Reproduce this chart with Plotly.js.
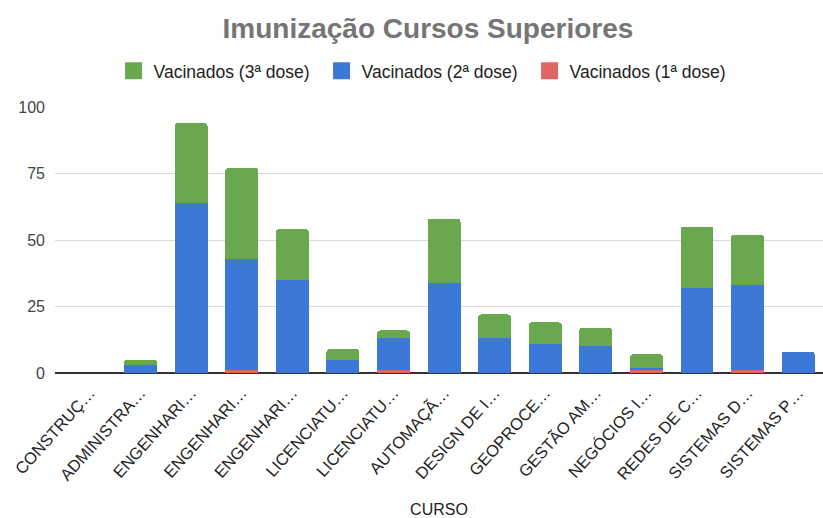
<!DOCTYPE html>
<html>
<head>
<meta charset="utf-8">
<script src="https://cdn.plot.ly/plotly-3.0.1.min.js"></script>
<style>html,body{margin:0;padding:0;background:#fff;}#chart{width:823px;height:518px;}</style>
</head>
<body>
<div id="chart"></div>
<script>
const categories = ["CONSTRUÇ…", "ADMINISTRA…", "ENGENHARI…", "ENGENHARI…", "ENGENHARI…", "LICENCIATU…", "LICENCIATU…", "AUTOMAÇÃ…", "DESIGN DE I…", "GEOPROCE…", "GESTÃO AM…", "NEGÓCIOS I…", "REDES DE C…", "SISTEMAS D…", "SISTEMAS P…"];
const dose1 = [0, 0, 0, 1, 0, 0, 1, 0, 0, 0, 0, 1, 0, 1, 0];
const dose2 = [0, 3, 64, 42, 35, 5, 12, 34, 13, 11, 10, 1, 32, 32, 8];
const dose3 = [0, 2, 30, 34, 19, 4, 3, 24, 9, 8, 7, 5, 23, 19, 0];
const seriesNames = ["Vacinados (1ª dose)", "Vacinados (2ª dose)", "Vacinados (3ª dose)"];
const yTicks = [0, 25, 50, 75, 100];

const xs = categories.map((_, i) => i);
const colors = ["#e06666", "#3c78d8", "#6aa84f"];
const traces = [dose1, dose2, dose3].map((vals, k) => ({
  type: "bar",
  x: xs,
  y: vals,
  name: seriesNames[k],
  legendgroup: "g" + k,
  showlegend: false,
  width: 0.65,
  marker: {color: colors[k], line: {width: 0}},
  hoverinfo: "skip"
}));
// legend-only entries (larger swatches); their single bar sits outside the visible x range
const legendTraces = seriesNames.map((nm, k) => ({
  type: "bar",
  x: [-10], y: [1],
  width: 0.5,
  name: nm,
  legendgroup: "g" + k,
  showlegend: true,
  marker: {color: colors[k], cornerradius: 0, line: {color: colors[k], width: 5}},
  hoverinfo: "skip"
}));

const font = "Liberation Sans, Arial, sans-serif";
const layout = {
  width: 823, height: 518, autosize: false,
  barmode: "stack",
  barcornerradius: 3,
  paper_bgcolor: "#fff", plot_bgcolor: "#fff",
  margin: {l: 55, r: 0, t: 107, b: 145, pad: 0},
  font: {family: font, size: 16, color: "#222"},
  title: {
    text: "<b>Imunização Cursos Superiores</b>",
    font: {family: font, size: 28, color: "#757575"},
    x: 0.52, xref: "container", xanchor: "center",
    y: 0.945, yref: "container", yanchor: "middle"
  },
  showlegend: true,
  legend: {
    orientation: "h", traceorder: "reversed",
    x: 0.138, xref: "container", xanchor: "left",
    y: 0.863, yref: "container", yanchor: "middle",
    font: {family: font, size: 17.5, color: "#222"},
    itemwidth: 30,
    entrywidth: 163, entrywidthmode: "pixels"
  },
  xaxis: {
    range: [-0.69, 14.49],
    tickvals: xs, ticktext: categories,
    tickangle: -48,
    tickfont: {family: font, size: 16.5, color: "#222"},
    ticklabelshift: 0,
    ticklabelstandoff: 6,
    showgrid: false, zeroline: false, showline: false, ticks: "",
    fixedrange: true,
    title: {text: "CURSO", font: {family: font, size: 16, color: "#222"}, standoff: 26}
  },
  yaxis: {
    range: [0, 100],
    tickvals: yTicks,
    tickfont: {family: font, size: 16, color: "#444"},
    ticklabelstandoff: 9,
    showgrid: true, gridcolor: "#d9d9d9", gridwidth: 1,
    zeroline: true, zerolinecolor: "#333", zerolinewidth: 1.5,
    showline: false, ticks: "",
    fixedrange: true
  }
};

Plotly.newPlot("chart", traces.concat(legendTraces), layout, {displayModeBar: false, staticPlot: true});
</script>
</body>
</html>
